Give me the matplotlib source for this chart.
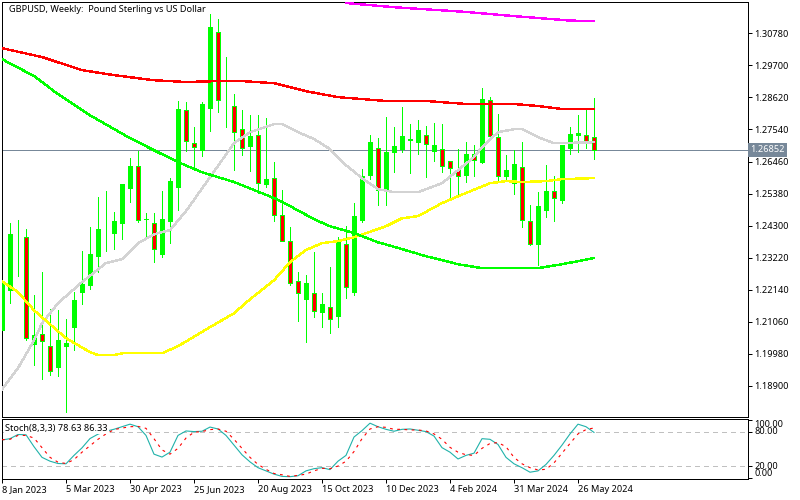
# plot.py
# GBPUSD weekly candles with moving averages and a stochastic sub-window
import matplotlib
matplotlib.use('Agg')
import matplotlib.pyplot as plt

plt.rcParams['font.family'] = ['Noto Sans', 'DejaVu Sans']

# ── Candles ──────────────────────────────────────────────────────────
opens = [1.2075, 1.2209, 1.2397, 1.2391, 1.2027, 1.2064, 1.2024, 1.1950, 1.2021, 1.2085,
         1.2203, 1.2226, 1.2324, 1.2414, 1.2401, 1.2435, 1.2553, 1.2631, 1.2448, 1.2438,
         1.2331, 1.2442, 1.2556, 1.2819, 1.2708, 1.2681, 1.2823, 1.3082, 1.2845, 1.2833,
         1.2755, 1.2694, 1.2735, 1.2567, 1.2590, 1.2465, 1.2378, 1.2243, 1.2179, 1.2203,
         1.2135, 1.2155, 1.2122, 1.2368, 1.2203, 1.2445, 1.2597, 1.2691, 1.2546, 1.2674,
         1.2684, 1.2715, 1.2708, 1.2735, 1.2678, 1.2688, 1.2647, 1.2617, 1.2597, 1.2671,
         1.2641, 1.2853, 1.2728, 1.2593, 1.2570, 1.2627, 1.2445, 1.2364, 1.2479, 1.2546,
         1.2513, 1.2688, 1.2732, 1.2735, 1.2728]
highs = [1.2250, 1.2438, 1.2449, 1.2418, 1.2196, 1.2273, 1.2149, 1.2145, 1.2115, 1.2206,
         1.2344, 1.2425, 1.2526, 1.2546, 1.2476, 1.2570, 1.2658, 1.2681, 1.2472, 1.2472,
         1.2546, 1.2590, 1.2850, 1.2846, 1.2762, 1.2846, 1.3143, 1.3126, 1.2998, 1.2873,
         1.2819, 1.2802, 1.2802, 1.2792, 1.2644, 1.2550, 1.2425, 1.2273, 1.2263, 1.2341,
         1.2203, 1.2290, 1.2391, 1.2428, 1.2506, 1.2620, 1.2735, 1.2725, 1.2796, 1.2762,
         1.2829, 1.2772, 1.2786, 1.2765, 1.2775, 1.2772, 1.2647, 1.2688, 1.2711, 1.2701,
         1.2893, 1.2863, 1.2806, 1.2668, 1.2684, 1.2711, 1.2499, 1.2543, 1.2634, 1.2597,
         1.2701, 1.2762, 1.2802, 1.2819, 1.2860]
lows = [1.2060, 1.2169, 1.2260, 1.2044, 1.1960, 1.1913, 1.1926, 1.1923, 1.1802, 1.2011,
        1.2166, 1.2216, 1.2273, 1.2344, 1.2351, 1.2385, 1.2509, 1.2442, 1.2395, 1.2307,
        1.2324, 1.2371, 1.2482, 1.2681, 1.2624, 1.2664, 1.2749, 1.2813, 1.2762, 1.2617,
        1.2668, 1.2614, 1.2540, 1.2560, 1.2445, 1.2378, 1.2230, 1.2108, 1.2037, 1.2122,
        1.2088, 1.2068, 1.2088, 1.2186, 1.2196, 1.2442, 1.2587, 1.2499, 1.2499, 1.2610,
        1.2678, 1.2607, 1.2671, 1.2593, 1.2647, 1.2610, 1.2523, 1.2533, 1.2577, 1.2597,
        1.2641, 1.2732, 1.2580, 1.2583, 1.2536, 1.2425, 1.2364, 1.2297, 1.2459, 1.2445,
        1.2506, 1.2671, 1.2678, 1.2691, 1.2654]
closes = [1.2236, 1.2401, 1.2398, 1.2051, 1.2061, 1.2041, 1.1940, 1.2044, 1.2034, 1.2179,
          1.2233, 1.2334, 1.2418, 1.2415, 1.2445, 1.2570, 1.2631, 1.2449, 1.2449, 1.2351,
          1.2452, 1.2580, 1.2823, 1.2715, 1.2694, 1.2840, 1.3099, 1.2853, 1.2846, 1.2745,
          1.2691, 1.2732, 1.2573, 1.2587, 1.2465, 1.2378, 1.2236, 1.2203, 1.2236, 1.2142,
          1.2166, 1.2115, 1.2381, 1.2223, 1.2462, 1.2597, 1.2711, 1.2550, 1.2678, 1.2698,
          1.2732, 1.2722, 1.2752, 1.2705, 1.2701, 1.2631, 1.2624, 1.2597, 1.2671, 1.2651,
          1.2856, 1.2732, 1.2597, 1.2617, 1.2637, 1.2449, 1.2368, 1.2496, 1.2546, 1.2523,
          1.2701, 1.2738, 1.2742, 1.2715, 1.2685]
last_price = 1.26852

# ── Moving averages (bar index, price) ───────────────────────────────
red_idx = [0, 5, 10, 14, 19, 23, 27, 30, 34, 38, 42, 48, 53, 58, 64, 67, 70, 74]
red_ma = [1.3028, 1.2998, 1.2954, 1.2937, 1.2920, 1.2914, 1.2917, 1.2917, 1.2910, 1.2883,
          1.2863, 1.2850, 1.2850, 1.2840, 1.2840, 1.2833, 1.2823, 1.2823]
green_idx = [0, 4, 7, 11, 16, 19, 22, 25, 29, 34, 36, 39, 41, 44, 47, 50, 53, 55, 57, 60,
             64, 67, 70, 74]
green_ma = [1.2991, 1.2934, 1.2873, 1.2802, 1.2725, 1.2684, 1.2644, 1.2610, 1.2577, 1.2523,
            1.2496, 1.2452, 1.2428, 1.2405, 1.2374, 1.2351, 1.2327, 1.2314, 1.2300, 1.2287,
            1.2287, 1.2287, 1.2300, 1.2321]
yellow_idx = [0, 2, 4, 6, 8, 11, 12, 14, 15, 20, 22, 26, 29, 31, 34, 36, 38, 40, 42, 44,
              48, 50, 52, 55, 57, 61, 63, 65, 68, 70, 74]
yellow_ma = [1.2243, 1.2206, 1.2145, 1.2098, 1.2051, 1.2004, 1.1994, 1.1994, 1.2000, 1.2000,
             1.2024, 1.2088, 1.2135, 1.2182, 1.2246, 1.2307, 1.2348, 1.2371, 1.2378, 1.2391,
             1.2428, 1.2455, 1.2462, 1.2506, 1.2529, 1.2573, 1.2580, 1.2577, 1.2580, 1.2587,
             1.2590]
gray_idx = [0, 2, 4, 5, 7, 10, 13, 15, 17, 19, 21, 23, 26, 29, 31, 34, 35, 37, 39, 41,
            43, 45, 47, 49, 52, 55, 57, 59, 60, 62, 64, 65, 67, 69, 74]
gray_ma = [1.1879, 1.1950, 1.2044, 1.2101, 1.2169, 1.2240, 1.2304, 1.2317, 1.2371, 1.2401,
           1.2415, 1.2479, 1.2593, 1.2708, 1.2745, 1.2772, 1.2772, 1.2745, 1.2722, 1.2688,
           1.2634, 1.2590, 1.2553, 1.2543, 1.2543, 1.2573, 1.2617, 1.2661, 1.2694, 1.2745,
           1.2755, 1.2755, 1.2728, 1.2708, 1.2711]
magenta_idx = [43, 49, 58, 64, 71, 74]
magenta_ma = [1.3180, 1.3166, 1.3150, 1.3136, 1.3121, 1.3119]

# ── Stochastic ───────────────────────────────────────────────────────
stoch_main = [65.6, 67.8, 75.0, 74.5, 54.0, 35.6, 29.0, 25.0, 24.5, 39.0,
              52.0, 68.0, 75.6, 80.6, 84.0, 88.4, 92.8, 88.4, 73.4, 41.1,
              36.1, 44.5, 73.4, 81.1, 80.0, 80.6, 87.8, 84.5, 73.4, 56.7,
              40.0, 27.8, 17.8, 12.3, 6.7, 2.8, 2.3, 3.9, 12.3, 16.1,
              17.8, 14.5, 29.0, 39.0, 70.6, 81.7, 94.5, 88.4, 83.9, 80.6,
              83.9, 84.5, 82.3, 80.0, 72.3, 52.3, 44.5, 32.8, 39.0, 42.8,
              67.8, 66.7, 57.8, 35.6, 24.5, 17.8, 10.0, 12.3, 23.4, 39.0,
              56.7, 76.0, 92.8, 88.4, 78.6]
stoch_signal = [66.0, 66.7, 73.4, 73.4, 68.9, 52.3, 35.6, 27.3, 25.0, 31.7,
                44.5, 55.6, 66.7, 76.0, 83.4, 86.1, 88.4, 88.9, 85.6, 67.8,
                48.4, 41.1, 51.1, 68.9, 78.9, 80.0, 83.4, 84.5, 80.6, 66.7,
                51.1, 35.6, 23.4, 15.0, 7.8, 5.6, 2.8, 4.5, 6.7, 12.3,
                16.7, 16.1, 20.6, 28.9, 45.6, 67.8, 84.5, 88.4, 87.3, 83.9,
                83.9, 82.8, 82.8, 81.1, 76.0, 66.7, 52.8, 44.5, 40.0, 39.0,
                51.1, 59.5, 61.1, 53.9, 35.6, 24.5, 17.8, 13.9, 15.0, 26.1,
                42.8, 59.5, 76.0, 83.4, 86.3]

# ── Axis labels ──────────────────────────────────────────────────────
price_ticks = [1.3078, 1.2970, 1.2862, 1.2754, 1.2646, 1.2538, 1.2430, 1.2322, 1.2214,
               1.2106, 1.1998, 1.1890]
date_ticks = [0, 8, 16, 24, 32, 40, 48, 56, 64, 72]
date_labels = ['8 Jan 2023', '5 Mar 2023', '30 Apr 2023', '25 Jun 2023', '20 Aug 2023',
               '15 Oct 2023', '10 Dec 2023', '4 Feb 2024', '31 Mar 2024', '26 May 2024']
stoch_ticks = [0, 20, 80, 100]

PX = 0.72   # one pixel in points at dpi=100
FS = 6.6
W, H = 800, 500
LEFT, RIGHT = 2, 748

fig = plt.figure(figsize=(8, 5), dpi=100)
ax = fig.add_axes([LEFT / W, 1 - 417 / H, (RIGHT - LEFT) / W, 415 / H])
ax2 = fig.add_axes([LEFT / W, 1 - 479 / H, (RIGHT - LEFT) / W, 60 / H])

# ── Main window ──────────────────────────────────────────────────────
ax.axhline(last_price, color='#778899', lw=PX, zorder=1, antialiased=False)

for i in range(len(opens)):
    o, h, l, c = opens[i], highs[i], lows[i], closes[i]
    ax.plot([i, i], [l, h], color='#00ff00', lw=PX, zorder=2, antialiased=False,
            solid_capstyle='butt')
    bottom, height = min(o, c), max(abs(c - o), 0.0003)
    if c >= o:
        ax.bar(i, height, bottom=bottom, width=5 / 8, color='#00ff00', lw=0, zorder=3,
               antialiased=False)
    else:
        ax.bar(i, height, bottom=bottom, width=4 / 8, facecolor='#ff0000',
               edgecolor='#00ff00', lw=PX, zorder=3, antialiased=False)

for xs, ys, col in [(gray_idx, gray_ma, '#d3d3d3'), (yellow_idx, yellow_ma, '#ffff00'),
                    (green_idx, green_ma, '#00ff00'), (red_idx, red_ma, '#ff0000'),
                    (magenta_idx, magenta_ma, '#ff00ff')]:
    ax.plot(xs, ys, color=col, lw=1.0, zorder=4, antialiased=False)

ax.set_xlim(0, 93.25)
ax.set_ylim(1.17854, 1.31835)
ax.set_xticks([])
ax.yaxis.tick_right()
ax.set_yticks(price_ticks, [f'{p:.5f}' for p in price_ticks])
ax.tick_params(axis='y', length=3, width=PX, pad=1.5, labelsize=FS)

ax.text(7 / (RIGHT - LEFT), 1 - 7.5 / 415, 'GBPUSD, Weekly:  Pound Sterling vs US Dollar',
        transform=ax.transAxes, fontsize=FS, va='center', ha='left', color='black')
ax.text(1.0027, last_price, '1.26852', transform=ax.get_yaxis_transform(), color='white',
        fontsize=FS, va='center', ha='left', zorder=6, clip_on=False,
        bbox=dict(facecolor='#778899', edgecolor='none', pad=1.5))

# ── Stochastic window ────────────────────────────────────────────────
for lvl in (20, 80):
    ax2.axhline(lvl, color='#c0c0c0', lw=0.6, ls=(0, (6, 5)), zorder=1, antialiased=False)
bars = list(range(len(stoch_main)))
ax2.plot(bars, stoch_main, color='#20b2aa', lw=0.8, zorder=2)
ax2.plot(bars, stoch_signal, color='#ff0000', lw=0.8, ls=(0, (2.5, 4)), zorder=3)

ax2.set_xlim(0, 93.25)
ax2.set_ylim(-1.7, 101.7)
ax2.yaxis.tick_right()
ax2.set_yticks(stoch_ticks, [f'{v:.2f}' for v in stoch_ticks])
ax2.tick_params(axis='y', length=3, width=PX, pad=1.5, labelsize=FS)
for lab, va in zip(ax2.get_yticklabels(), ['bottom', 'center', 'center', 'top']):
    lab.set_va(va)

ax2.set_xticks(date_ticks, date_labels)
ax2.tick_params(axis='x', length=3, width=PX, pad=1.5, labelsize=FS)
for lab in ax2.get_xticklabels():
    lab.set_ha('left')

ax2.text(3 / (RIGHT - LEFT), 1 - 9 / 60, 'Stoch(8,3,3) 78.63 86.33', transform=ax2.transAxes,
         fontsize=FS, va='center', ha='left', zorder=5,
         bbox=dict(facecolor='white', edgecolor='none', pad=1))

for a in (ax, ax2):
    for sp in a.spines.values():
        sp.set_linewidth(PX)

fig.savefig('out.png', dpi=100)
